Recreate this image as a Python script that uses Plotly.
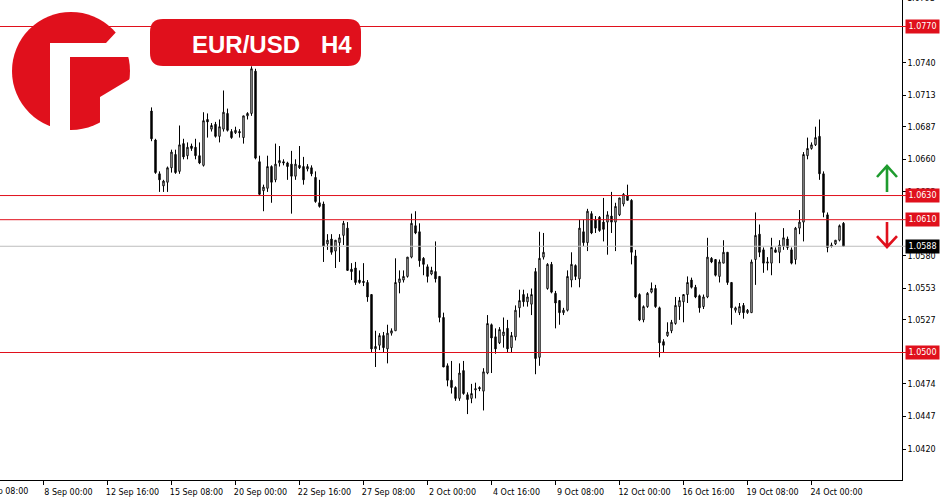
import plotly.graph_objects as go

# ---------------- data ----------------
opens = [1.0700,1.0676,1.0648,1.0638,1.0641,1.0653,1.0664,1.0650,1.0673,1.0663,
         1.0671,1.0670,1.0663,1.0655,1.0693,1.0685,1.0689,1.0679,1.0685,1.0698,
         1.0683,1.0682,1.0683,1.0678,1.0696,1.0698,1.0733,1.0658,1.0634,1.0636,
         1.0654,1.0643,1.0657,1.0658,1.0657,1.0656,1.0646,1.0655,1.0654,1.0652,
         1.0653,1.0645,1.0624,1.0623,1.0590,1.0594,1.0584,1.0591,1.0597,1.0603,
         1.0569,1.0570,1.0560,1.0559,1.0558,1.0548,1.0503,1.0506,1.0514,1.0503,
         1.0516,1.0518,1.0558,1.0560,1.0563,1.0579,1.0605,1.0600,1.0578,1.0571,
         1.0565,1.0567,1.0563,1.0529,1.0489,1.0477,1.0471,1.0462,1.0485,1.0465,
         1.0462,1.0469,1.0471,1.0468,1.0483,1.0523,1.0513,1.0508,1.0514,1.0520,
         1.0504,1.0513,1.0537,1.0548,1.0542,1.0540,1.0567,1.0496,1.0579,1.0553,
         1.0573,1.0549,1.0543,1.0533,1.0535,1.0560,1.0572,1.0561,1.0600,1.0591,
         1.0615,1.0610,1.0612,1.0608,1.0608,1.0613,1.0608,1.0614,1.0623,1.0630,
         1.0626,1.0580,1.0548,1.0527,1.0538,1.0550,1.0553,1.0537,1.0509,1.0514,
         1.0518,1.0524,1.0538,1.0542,1.0548,1.0560,1.0554,1.0547,1.0538,1.0546,
         1.0578,1.0577,1.0563,1.0574,1.0583,1.0558,1.0535,1.0533,1.0539,1.0533,
         1.0533,1.0577,1.0598,1.0585,1.0574,1.0574,1.0585,1.0583,1.0588,1.0594,
         1.0585,1.0577,1.0603,1.0608,1.0663,1.0669,1.0672,1.0679,1.0648,1.0614,
         1.0588,1.0590,1.0593,1.0607]
highs = [1.0703,1.0677,1.0650,1.0643,1.0654,1.0668,1.0668,1.0688,1.0677,1.0674,
         1.0673,1.0677,1.0674,1.0699,1.0698,1.0690,1.0691,1.0693,1.0717,1.0702,
         1.0685,1.0687,1.0685,1.0696,1.0699,1.0737,1.0735,1.0663,1.0639,1.0663,
         1.0655,1.0673,1.0671,1.0660,1.0658,1.0667,1.0660,1.0671,1.0662,1.0656,
         1.0655,1.0650,1.0643,1.0625,1.0598,1.0598,1.0593,1.0598,1.0609,1.0608,
         1.0574,1.0575,1.0568,1.0574,1.0560,1.0548,1.0518,1.0516,1.0517,1.0523,
         1.0520,1.0578,1.0568,1.0568,1.0579,1.0615,1.0617,1.0607,1.0579,1.0573,
         1.0571,1.0592,1.0563,1.0533,1.0491,1.0493,1.0472,1.0491,1.0493,1.0467,
         1.0474,1.0475,1.0472,1.0487,1.0531,1.0524,1.0520,1.0521,1.0529,1.0527,
         1.0517,1.0539,1.0552,1.0552,1.0549,1.0553,1.0570,1.0600,1.0599,1.0574,
         1.0575,1.0551,1.0543,1.0537,1.0568,1.0583,1.0573,1.0610,1.0610,1.0619,
         1.0617,1.0613,1.0613,1.0628,1.0617,1.0633,1.0624,1.0628,1.0632,1.0639,
         1.0627,1.0585,1.0549,1.0539,1.0550,1.0558,1.0556,1.0538,1.0511,1.0525,
         1.0527,1.0546,1.0546,1.0548,1.0563,1.0562,1.0556,1.0548,1.0548,1.0595,
         1.0579,1.0577,1.0577,1.0593,1.0583,1.0558,1.0538,1.0541,1.0541,1.0536,
         1.0577,1.0616,1.0606,1.0587,1.0579,1.0595,1.0587,1.0593,1.0603,1.0596,
         1.0587,1.0604,1.0618,1.0666,1.0678,1.0674,1.0687,1.0693,1.0650,1.0616,
         1.0591,1.0593,1.0606,1.0608]
lows = [1.0675,1.0648,1.0633,1.0633,1.0633,1.0649,1.0648,1.0648,1.0660,1.0660,
        1.0667,1.0660,1.0656,1.0654,1.0678,1.0683,1.0678,1.0674,1.0683,1.0683,
        1.0677,1.0681,1.0678,1.0673,1.0693,1.0696,1.0660,1.0630,1.0617,1.0633,
        1.0624,1.0641,1.0654,1.0655,1.0643,1.0615,1.0643,1.0652,1.0639,1.0650,
        1.0646,1.0624,1.0620,1.0575,1.0585,1.0581,1.0570,1.0575,1.0589,1.0568,
        1.0560,1.0556,1.0557,1.0555,1.0542,1.0500,1.0488,1.0502,1.0500,1.0491,
        1.0514,1.0518,1.0549,1.0558,1.0562,1.0578,1.0598,1.0571,1.0564,1.0558,
        1.0564,1.0558,1.0525,1.0488,1.0472,1.0466,1.0460,1.0460,1.0465,1.0449,
        1.0458,1.0462,1.0468,1.0452,1.0482,1.0483,1.0499,1.0507,1.0504,1.0500,
        1.0500,1.0510,1.0529,1.0538,1.0538,1.0531,1.0482,1.0489,1.0577,1.0552,
        1.0549,1.0520,1.0523,1.0531,1.0534,1.0554,1.0560,1.0554,1.0588,1.0584,
        1.0598,1.0599,1.0600,1.0592,1.0581,1.0599,1.0584,1.0613,1.0621,1.0626,
        1.0573,1.0545,1.0526,1.0525,1.0537,1.0549,1.0537,1.0496,1.0500,1.0513,
        1.0516,1.0523,1.0527,1.0525,1.0541,1.0553,1.0545,1.0533,1.0536,1.0545,
        1.0574,1.0563,1.0558,1.0574,1.0556,1.0523,1.0533,1.0531,1.0528,1.0532,
        1.0533,1.0556,1.0579,1.0566,1.0568,1.0564,1.0583,1.0574,1.0585,1.0585,
        1.0573,1.0573,1.0598,1.0592,1.0660,1.0668,1.0671,1.0643,1.0612,1.0583,
        1.0587,1.0589,1.0592,1.0588]
closes = [1.0677,1.0649,1.0643,1.0642,1.0653,1.0666,1.0649,1.0672,1.0662,1.0670,
          1.0669,1.0663,1.0657,1.0692,1.0691,1.0688,1.0679,1.0687,1.0699,1.0684,
          1.0678,1.0684,1.0682,1.0696,1.0698,1.0735,1.0661,1.0631,1.0637,1.0654,
          1.0641,1.0656,1.0659,1.0657,1.0654,1.0646,1.0656,1.0653,1.0643,1.0654,
          1.0648,1.0625,1.0621,1.0588,1.0593,1.0583,1.0593,1.0595,1.0607,1.0568,
          1.0567,1.0558,1.0558,1.0558,1.0546,1.0503,1.0505,1.0514,1.0504,1.0516,
          1.0518,1.0558,1.0561,1.0563,1.0579,1.0607,1.0599,1.0576,1.0573,1.0563,
          1.0568,1.0561,1.0529,1.0488,1.0477,1.0471,1.0462,1.0483,1.0466,1.0461,
          1.0466,1.0470,1.0470,1.0484,1.0524,1.0512,1.0503,1.0519,1.0517,1.0503,
          1.0514,1.0535,1.0543,1.0542,1.0546,1.0548,1.0495,1.0578,1.0583,1.0573,
          1.0550,1.0541,1.0533,1.0535,1.0563,1.0573,1.0563,1.0603,1.0591,1.0617,
          1.0599,1.0603,1.0601,1.0602,1.0614,1.0608,1.0621,1.0628,1.0631,1.0626,
          1.0583,1.0546,1.0527,1.0538,1.0549,1.0553,1.0538,1.0508,1.0506,1.0517,
          1.0525,1.0539,1.0543,1.0548,1.0558,1.0554,1.0546,1.0537,1.0546,1.0579,
          1.0575,1.0564,1.0575,1.0583,1.0558,1.0537,1.0537,1.0538,1.0533,1.0535,
          1.0575,1.0597,1.0583,1.0574,1.0575,1.0587,1.0583,1.0589,1.0595,1.0587,
          1.0574,1.0603,1.0608,1.0664,1.0669,1.0672,1.0678,1.0648,1.0616,1.0587,
          1.0589,1.0593,1.0605,1.0588]

first_bar = 27            # bar number (counted from 8 Sep 00:00) of the first candle
bars = list(range(first_bar, first_bar + len(opens)))

x_tick_bars = [0, 16, 32, 48, 64, 80, 96, 112, 128, 144, 160, 176, 192]
x_tick_labels = ["8 Sep 00:00", "12 Sep 16:00", "15 Sep 08:00", "20 Sep 00:00",
                 "22 Sep 16:00", "27 Sep 08:00", "2 Oct 00:00", "4 Oct 16:00",
                 "9 Oct 08:00", "12 Oct 00:00", "16 Oct 16:00", "19 Oct 08:00",
                 "24 Oct 00:00"]
cut_label = "5 Sep 08:00"
y_tick_vals = [1.0420, 1.0447, 1.0474, 1.0527, 1.0553, 1.0580, 1.0633,
               1.0660, 1.0687, 1.0713, 1.0740]
top_label = "1.0793"
red_levels = [1.0770, 1.0630, 1.0610, 1.0500]
last_price = 1.0588
title_pair = "EUR/USD"
title_tf = "H4"

# ---------------- geometry helpers (plot area 902 x 480 px) ----------------
W, H = 902.0, 480.0
def fx(px): return px / W
def fy(py): return 1 - py / H

RED = "#E0101C"
GREEN = "#1E9B2E"
FONT = "DejaVu Sans"

fig = go.Figure()
fig.add_trace(go.Candlestick(
    x=bars, open=opens, high=highs, low=lows, close=closes,
    increasing=dict(line=dict(color="black", width=1), fillcolor="white"),
    decreasing=dict(line=dict(color="black", width=1), fillcolor="black"),
    whiskerwidth=0, hoverinfo="skip", showlegend=False))

shapes = []
shapes.append(dict(type="line", xref="paper", yref="y", x0=0, x1=fx(906),
                   y0=last_price, y1=last_price, line=dict(color="#BDBDBD", width=1),
                   layer="above"))
for lv in red_levels:
    shapes.append(dict(type="line", xref="paper", yref="y", x0=0, x1=fx(906),
                       y0=lv, y1=lv, line=dict(color=RED, width=1), layer="above"))

def poly(pts):
    return "M " + " L ".join(f"{fx(x):.5f},{fy(y):.5f}" for x, y in pts) + " Z"

# logo
shapes.append(dict(type="circle", xref="paper", yref="paper",
                   x0=fx(12), x1=fx(130), y0=fy(130), y1=fy(12),
                   fillcolor=RED, line=dict(width=0), layer="above"))
shapes.append(dict(type="path", xref="paper", yref="paper",
                   path=poly([(50, 133), (50, 43), (106, 43), (119, 29), (140, 29),
                              (140, 57), (70, 57), (70, 133)]),
                   fillcolor="white", line=dict(width=0), layer="above"))
shapes.append(dict(type="path", xref="paper", yref="paper",
                   path=poly([(100, 133), (100, 97), (130, 79), (140, 79), (140, 133)]),
                   fillcolor="white", line=dict(width=0), layer="above"))

# title badge (rounded rectangle)
x0b, x1b, y0b, y1b, r = 150, 361, 19, 66, 13
def P(x, y): return f"{fx(x):.5f},{fy(y):.5f}"
badge = (f"M {P(x0b + r, y0b)} L {P(x1b - r, y0b)} Q {P(x1b, y0b)} {P(x1b, y0b + r)} "
         f"L {P(x1b, y1b - r)} Q {P(x1b, y1b)} {P(x1b - r, y1b)} "
         f"L {P(x0b + r, y1b)} Q {P(x0b, y1b)} {P(x0b, y1b - r)} "
         f"L {P(x0b, y0b + r)} Q {P(x0b, y0b)} {P(x0b + r, y0b)} Z")
shapes.append(dict(type="path", xref="paper", yref="paper", path=badge,
                   fillcolor=RED, line=dict(width=0), layer="above"))

# arrows
up = f"M {P(887,192)} L {P(887,167)} M {P(877,177)} L {P(887,166)} L {P(897,177)}"
dn = f"M {P(887,222)} L {P(887,246)} M {P(877,236)} L {P(887,247)} L {P(897,236)}"
shapes.append(dict(type="path", xref="paper", yref="paper", path=up,
                   line=dict(color=GREEN, width=2.6), layer="above"))
shapes.append(dict(type="path", xref="paper", yref="paper", path=dn,
                   line=dict(color=RED, width=2.6), layer="above"))

annotations = []
for lv in red_levels:
    annotations.append(dict(xref="paper", yref="y", x=1, y=lv, xanchor="left",
                            yanchor="middle", xshift=3, text=f"{lv:.4f}", showarrow=False,
                            bgcolor=RED, font=dict(family=FONT, size=8, color="white"),
                            width=31, height=11, borderpad=1, align="center"))
annotations.append(dict(xref="paper", yref="y", x=1, y=last_price, xanchor="left",
                        yanchor="middle", xshift=3, text=f"{last_price:.4f}",
                        showarrow=False, bgcolor="black",
                        font=dict(family=FONT, size=8, color="white"),
                        width=31, height=11, borderpad=1, align="center"))
annotations.append(dict(xref="paper", yref="paper", x=1, y=1 + 2 / H, xanchor="left",
                        yanchor="middle", xshift=3, text=top_label, showarrow=False,
                        font=dict(family=FONT, size=8, color="black")))
annotations.append(dict(xref="paper", yref="paper", x=fx(-21 + 25), y=0,
                        xanchor="center", yanchor="top", yshift=-5, text=cut_label,
                        showarrow=False, font=dict(family=FONT, size=8, color="black")))
annotations.append(dict(xref="paper", yref="paper", x=fx(190), y=fy(44.5),
                        xanchor="left", yanchor="middle", text=f"<b>{title_pair}</b>",
                        showarrow=False,
                        font=dict(family="Liberation Sans", size=24, color="white")))
annotations.append(dict(xref="paper", yref="paper", x=fx(319), y=fy(44.5),
                        xanchor="left", yanchor="middle", text=f"<b>{title_tf}</b>",
                        showarrow=False,
                        font=dict(family="Liberation Sans", size=24, color="white")))

scale = 326 / 0.0270   # px per price unit
y_top = 1.0500 + 352.5 / scale
y_bot = y_top - 480 / scale
x_lo = -43 / 4 - 0.125          # half-pixel offset so 1px strokes stay crisp
x_hi = x_lo + 902 / 4

fig.update_layout(
    width=950, height=500,
    margin=dict(l=0, r=48, t=0, b=20),
    paper_bgcolor="white", plot_bgcolor="white",
    boxgap=0.5,
    shapes=shapes, annotations=annotations,
    xaxis=dict(range=[x_lo, x_hi], rangeslider=dict(visible=False),
               showgrid=False, zeroline=False, showline=True, linecolor="black",
               linewidth=1, ticks="outside", ticklen=4, tickcolor="black",
               tickvals=x_tick_bars, ticktext=x_tick_labels, ticklabelshift=25,
               tickfont=dict(family=FONT, size=8, color="black"), fixedrange=True),
    yaxis=dict(range=[y_bot, y_top], side="right", showgrid=False, zeroline=False,
               showline=True, linecolor="black", linewidth=1, ticks="outside",
               ticklen=3, tickcolor="black", tickvals=y_tick_vals,
               ticktext=[f"{v:.4f}" for v in y_tick_vals],
               tickfont=dict(family=FONT, size=8, color="black"), fixedrange=True),
)

fig.write_html("out.html", config={"displayModeBar": False},
               post_script="document.body.style.margin='0';document.body.style.overflow='hidden';")
